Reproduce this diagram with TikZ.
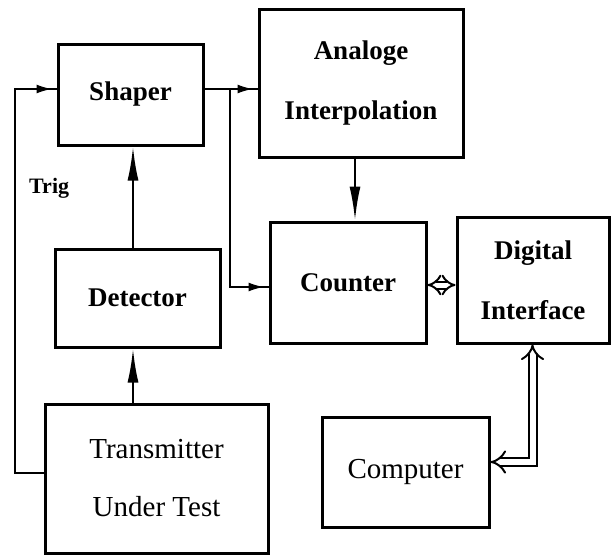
\documentclass[tikz,border=0pt]{standalone}
\usepackage{fontspec}
\setmainfont{Liberation Serif}
\usetikzlibrary{arrows.meta,decorations.markings,calc}
\begin{document}
\begin{tikzpicture}[x=1pt,y=-1pt,
  blk/.style={draw, line width=3pt, inner sep=0pt, align=center,
    font=\bfseries\fontsize{27pt}{60pt}\selectfont},
  blkr/.style={blk, font=\fontsize{29pt}{58pt}\selectfont},
  conn/.style={line width=2.4pt},
  marr/.style={postaction={decorate}, decoration={markings,
    mark=at position -4pt with {\arrow{Latex[length=16pt,width=9pt]}}}},
  varr/.style={conn, -{Latex[length=34pt,width=11pt]}},
  dbl/.style={double, line width=2pt, double distance=#1},
  imp/.style={{Implies[length=#1]}-{Implies[length=#1]}}
]
\useasboundingbox (0,0) rectangle (616,555);

\node[blk, minimum width=145pt, minimum height=101pt] (shaper) at (130.5,94.5) {Shaper};
\node[blk, minimum width=204pt, minimum height=148pt] (analog) at (361,83) {Analoge\\Interpolation};
\node[blk, minimum width=165pt, minimum height=98pt] (det) at (137.5,298) {Detector};
\node[blkr, minimum width=223pt, minimum height=149pt] (trans) at (156.5,478.5) {Transmitter\\Under Test};
\node[blk, minimum width=156pt, minimum height=121pt] (counter) at (348,282.5) {Counter};
\node[blk, minimum width=152pt, minimum height=126pt] (di) at (533,280) {Digital\\Interface};
\node[blkr, minimum width=167pt, minimum height=110pt] (comp) at (405.5,472) {Computer};
\node[font=\bfseries\fontsize{22pt}{24pt}\selectfont, anchor=base west, inner sep=0pt] (trig) at (29,193) {Trig};

% Trig feedback line
\coordinate (trigL) at (15,473);
\coordinate (trigT) at (15,89);
\draw[conn, marr] (trigL -| trans.west) -- (trigL) -- (trigT) -- (trigT -| shaper.west);

% shaper to analog and counter
\coordinate (sa) at (230,89);
\coordinate (br) at (230,287);
\draw[conn, marr] (sa -| shaper.east) -- (sa -| analog.west);
\draw[conn, marr] (sa) -- (br) -- (br -| counter.west);

% vertical arrows
\coordinate (v1) at (133,0);
\coordinate (v2) at (355,0);
\draw[varr] (v1 |- det.north) -- (v1 |- shaper.south);
\draw[varr] (v1 |- trans.north) -- (v1 |- det.south);
\draw[varr] (v2 |- analog.south) -- (v2 |- counter.north);

% double arrows
\coordinate (h) at (0,285);
\draw[dbl=5pt, imp=7pt] (counter.east |- h) -- (di.west |- h);
\coordinate (dc) at (532.5,462);
\draw[dbl=6pt, imp=10pt] (dc |- di.south) -- (dc) -- (dc -| comp.east);
\end{tikzpicture}
\end{document}
